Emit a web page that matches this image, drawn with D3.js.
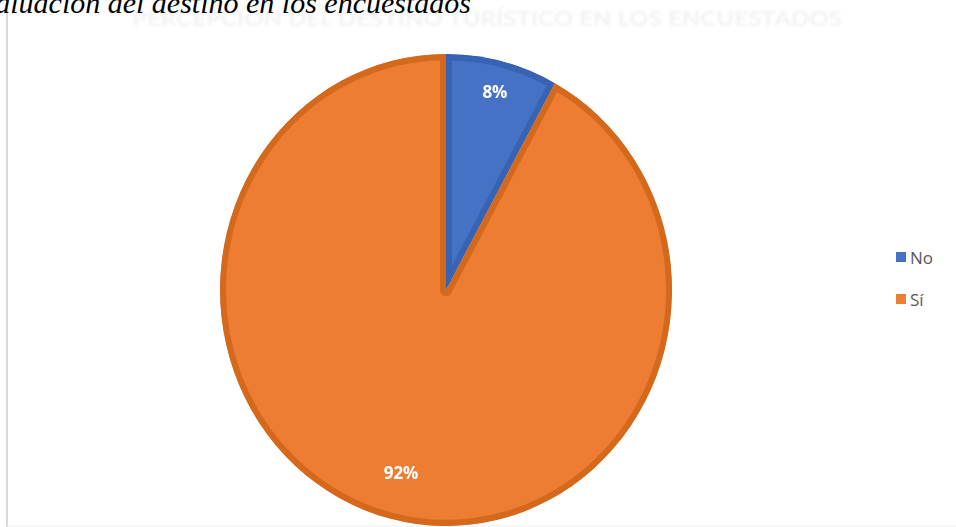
<!DOCTYPE html>
<html>
<head>
<meta charset="utf-8">
<script src="https://cdn.jsdelivr.net/npm/d3@7"></script>
<style>
  html, body { margin: 0; padding: 0; background: #fff; overflow: hidden; }
  svg { display: block; }
</style>
</head>
<body>
<svg id="chart" width="956" height="527"></svg>
<script>
// Survey answers
const categories = ["No", "Sí"];
const values = [8, 92];
const labels = ["8%", "92%"];
const colors = ["#4472C4", "#ED7D31"];
const borderColors = ["#3863b4", "#d4691f"];

const W = 956, H = 527;
const cx = 446, cy = 290, rx = 226, ry = 236;

const svg = d3.select("#chart");
const defs = svg.append("defs");

defs.append("filter").attr("id", "soft")
  .append("feGaussianBlur").attr("stdDeviation", 0.6);
defs.append("filter").attr("id", "ghost")
  .append("feGaussianBlur").attr("stdDeviation", 1.5);

// chart frame (left and bottom edges)
svg.append("line").attr("x1", 7).attr("x2", 7).attr("y1", 10).attr("y2", 527)
  .attr("stroke", "#d9d9d9").attr("stroke-width", 2);
svg.append("line").attr("x1", 7).attr("x2", W).attr("y1", 526).attr("y2", 526)
  .attr("stroke", "#f0f0f0").attr("stroke-width", 1);

// faded chart title
svg.append("text")
  .attr("x", 487).attr("y", 26)
  .attr("text-anchor", "middle")
  .attr("font-family", "Lato, 'Open Sans', sans-serif")
  .attr("font-weight", "bold")
  .attr("font-size", 20)
  .attr("textLength", 710)
  .attr("lengthAdjust", "spacingAndGlyphs")
  .attr("fill", "#f2f2f2")
  .attr("filter", "url(#ghost)")
  .text("PERCEPCIÓN DEL DESTINO TURÍSTICO EN LOS ENCUESTADOS");

// caption
svg.append("text")
  .attr("x", 471).attr("y", 13)
  .attr("text-anchor", "end")
  .attr("font-family", "'Liberation Serif', 'Times New Roman', serif")
  .attr("font-style", "italic")
  .attr("font-size", 30)
  .attr("fill", "#000")
  .text("Evaluación del destino en los encuestados");

// pie
const pie = d3.pie().sort(null).value(d => d);
const arcs = pie(values);
const arc = d3.arc().innerRadius(0).outerRadius(rx);

const g = svg.append("g")
  .attr("transform", `translate(${cx},${cy}) scale(1,${ry / rx})`)
  .attr("filter", "url(#soft)");

arcs.forEach((a, i) => {
  defs.append("clipPath").attr("id", "clip" + i)
    .append("path").attr("d", arc(a));
});

g.selectAll("path.slice")
  .data(arcs)
  .join("path")
  .attr("class", "slice")
  .attr("d", arc)
  .attr("fill", (d, i) => colors[i])
  .attr("stroke", (d, i) => borderColors[i])
  .attr("stroke-width", 12)
  .attr("stroke-linejoin", "round")
  .attr("clip-path", (d, i) => `url(#clip${i})`);

// percentage labels
const labelFactor = [0.87, 0.8];
svg.selectAll("text.pct")
  .data(arcs)
  .join("text")
  .attr("class", "pct")
  .attr("transform", (d, i) => {
    const r = rx * labelFactor[i];
    const c = d3.arc().innerRadius(r).outerRadius(r).centroid(d);
    return `translate(${cx + c[0]},${cy + c[1] * ry / rx})`;
  })
  .attr("text-anchor", "middle")
  .attr("dominant-baseline", "central")
  .attr("font-family", "'Open Sans', Lato, sans-serif")
  .attr("font-weight", "bold")
  .attr("font-size", 17)
  .attr("fill", "#fff")
  .attr("filter", "url(#soft)")
  .text((d, i) => labels[i]);

// legend
const legend = svg.append("g").attr("transform", "translate(896,257)");
const item = legend.selectAll("g")
  .data(categories)
  .join("g")
  .attr("transform", (d, i) => `translate(0,${i * 42})`);
item.append("rect")
  .attr("x", 0).attr("y", -5).attr("width", 10).attr("height", 10)
  .attr("fill", (d, i) => colors[i]);
item.append("text")
  .attr("x", 14).attr("y", 0)
  .attr("dominant-baseline", "central")
  .attr("font-family", "'Open Sans', Lato, sans-serif")
  .attr("font-size", 17)
  .attr("fill", "#595959")
  .text(d => d);
</script>
</body>
</html>
